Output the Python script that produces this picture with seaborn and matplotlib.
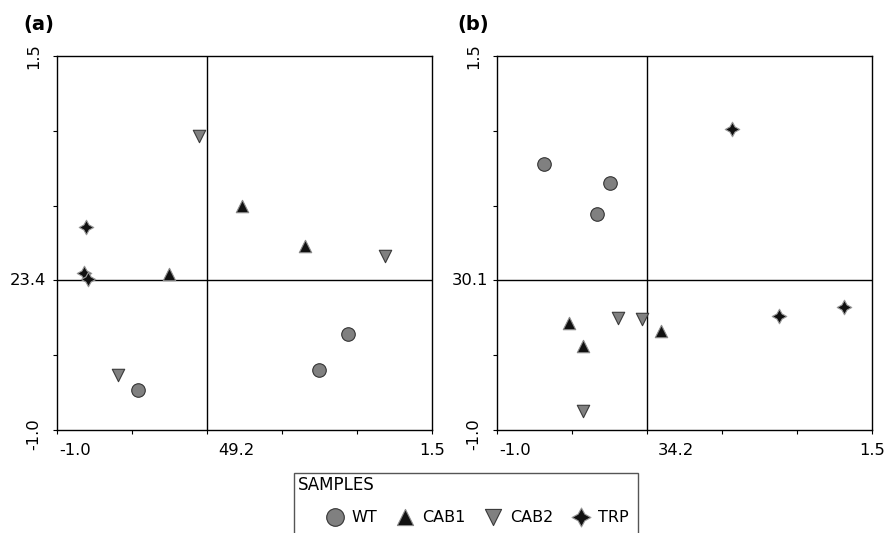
import numpy as np
import pandas as pd
import matplotlib
matplotlib.use("Agg")
import matplotlib.pyplot as plt
import matplotlib.patches as mpatches
import seaborn as sns

sns.set_style("white")
plt.rcParams['font.family'] = ['DejaVu Sans']
plt.rcParams['text.color'] = 'black'
plt.rcParams['xtick.color'] = 'black'
plt.rcParams['ytick.color'] = 'black'

samples = ["WT", "CAB1", "CAB2", "TRP"]

# panel (a) scores
a_wt_x = [0.939, 0.745, -0.457]
a_wt_y = [-0.358, -0.599, -0.732]
a_cab1_x = [0.233, 0.652, -0.252]
a_cab1_y = [0.500, 0.232, 0.043]
a_cab2_x = [-0.052, 1.188, -0.593]
a_cab2_y = [0.965, 0.165, -0.632]
a_trp_x = [-0.804, -0.820, -0.793]
a_trp_y = [0.355, 0.052, 0.007]

# panel (b) scores
b_wt_x = [-0.686, -0.248, -0.332]
b_wt_y = [0.780, 0.653, 0.444]
b_cab1_x = [-0.519, 0.091, -0.426]
b_cab1_y = [-0.287, -0.338, -0.438]
b_cab2_x = [-0.196, -0.034, -0.426]
b_cab2_y = [-0.253, -0.258, -0.871]
b_trp_x = [0.565, 0.877, 1.311]
b_trp_y = [1.010, -0.238, -0.180]

# axis labels (variance explained shown at the origin)
a_xlabels = ["-1.0", "49.2", "1.5"]
a_ylabels = ["1.5", "23.4", "-1.0"]
b_xlabels = ["-1.0", "34.2", "1.5"]
b_ylabels = ["1.5", "30.1", "-1.0"]


def make_df(xs, ys):
    rows = []
    for s, x, y in zip(samples, xs, ys):
        for xi, yi in zip(x, y):
            rows.append((s, xi, yi))
    return pd.DataFrame(rows, columns=["sample", "x", "y"])


dfa = make_df([a_wt_x, a_cab1_x, a_cab2_x, a_trp_x], [a_wt_y, a_cab1_y, a_cab2_y, a_trp_y])
dfb = make_df([b_wt_x, b_cab1_x, b_cab2_x, b_trp_x], [b_wt_y, b_cab1_y, b_cab2_y, b_trp_y])

style = {
    "WT":   dict(marker="o", color="#808080", edgecolor="#333333", s=95),
    "CAB1": dict(marker="^", color="#111111", edgecolor="#8a8a8a", s=80),
    "CAB2": dict(marker="v", color="#808080", edgecolor="#3a3a3a", s=80),
    "TRP":  dict(marker=(4, 1, 0), color="#111111", edgecolor="#999999", s=110),
}

fig = plt.figure(figsize=(8.92, 5.33), dpi=100)
axa = fig.add_axes([57 / 892, 1 - 430 / 533, 375 / 892, 374 / 533])
axb = fig.add_axes([497 / 892, 1 - 430 / 533, 375 / 892, 374 / 533])


def draw(ax, df, xlabels, ylabels, yoffs):
    ax.axvline(0, color="black", lw=1.0, zorder=1)
    ax.axhline(0, color="black", lw=1.0, zorder=1)
    for s in samples:
        st = style[s]
        sns.scatterplot(data=df[df["sample"] == s], x="x", y="y", ax=ax,
                        marker=st["marker"], color=st["color"],
                        edgecolor=st["edgecolor"], linewidth=0.8,
                        s=st["s"], label=s, zorder=3)
    ax.set_xlim(-1.0, 1.5)
    ax.set_ylim(-1.0, 1.5)
    ax.set_xticks(np.arange(-1.0, 1.51, 0.5))
    ax.set_yticks(np.arange(-1.0, 1.51, 0.5))
    ax.set_xticklabels([])
    ax.set_yticklabels([])
    ax.tick_params(direction="out", length=3, width=0.8, bottom=True, left=True, color="black")
    for sp in ax.spines.values():
        sp.set_color("black")
        sp.set_linewidth(1.0)
    ax.set_xlabel("")
    ax.set_ylabel("")
    ax.get_legend().remove()

    fs = 11.8
    # x labels
    ax.annotate(xlabels[0], xy=(-1.0, 0), xycoords=("data", "axes fraction"),
                xytext=(2, -13), textcoords="offset pixels", ha="left", va="top", fontsize=fs)
    ax.annotate(xlabels[1], xy=(0.0, 0), xycoords=("data", "axes fraction"),
                xytext=(11, -13), textcoords="offset pixels", ha="left", va="top", fontsize=fs)
    ax.annotate(xlabels[2], xy=(1.5, 0), xycoords=("data", "axes fraction"),
                xytext=(0, -13), textcoords="offset pixels", ha="center", va="top", fontsize=fs)
    # y labels
    ax.annotate(ylabels[0], xy=(0, 1.5), xycoords=("axes fraction", "data"),
                xytext=(-16, 0), textcoords="offset pixels", ha="right", va="center",
                rotation=90, fontsize=fs)
    ax.annotate(ylabels[1], xy=(0, 0.0), xycoords=("axes fraction", "data"),
                xytext=(yoffs, 0), textcoords="offset pixels", ha="right", va="center", fontsize=fs)
    ax.annotate(ylabels[2], xy=(0, -1.0), xycoords=("axes fraction", "data"),
                xytext=(-16, -4), textcoords="offset pixels", ha="right", va="center",
                rotation=90, fontsize=fs)


draw(axa, dfa, a_xlabels, a_ylabels, -11)
draw(axb, dfb, b_xlabels, b_ylabels, -9)

fig.text(23 / 892, 1 - 30 / 533, "(a)", fontsize=14, fontweight="bold", va="baseline")
fig.text(457 / 892, 1 - 30 / 533, "(b)", fontsize=14, fontweight="bold", va="baseline")

# legend
handles, labels = axa.get_legend_handles_labels()
leg = fig.legend(handles, labels, loc="center left", bbox_to_anchor=(325 / 892, 1 - 517 / 533),
                 frameon=False, ncol=4, fontsize=11.5,
                 handletextpad=0.45, columnspacing=1.15, borderpad=0, borderaxespad=0,
                 handlelength=1.2, markerscale=1.3)
fig.text(298 / 892, 1 - 490 / 533, "SAMPLES", fontsize=12, va="baseline")
fig.add_artist(mpatches.Rectangle((294 / 892, -0.05), 344 / 892, 0.05 + 60 / 533,
                                  transform=fig.transFigure, fill=False,
                                  edgecolor="#555555", lw=1.0))

fig.savefig("out.png", dpi=100)
